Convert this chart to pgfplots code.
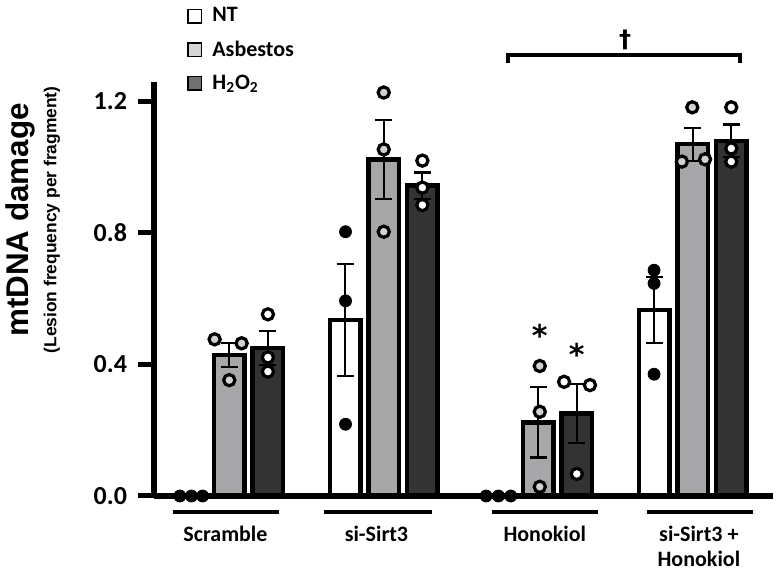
\documentclass[border=0pt]{standalone}
\usepackage{fontspec}
\setmainfont{Carlito}
\newfontfamily\arialfont{Liberation Sans}
\newfontfamily\djfont{DejaVu Sans}
\usepackage{pgfplots}
\pgfplotsset{compat=1.18}

\definecolor{asbbar}{HTML}{A7A7AA}
\definecolor{hbar}{HTML}{333333}
\definecolor{asbpt}{HTML}{D2D2D2}
\definecolor{asbleg}{HTML}{D6D6D6}
\definecolor{hleg}{HTML}{717171}

\begin{document}
\begin{tikzpicture}
\path[use as bounding box] (-77pt,-40pt) rectangle (314pt,248pt);
\begin{axis}[
    at={(0,0)}, anchor=south west,
    scale only axis, width=309.5pt, height=207pt,
    xmin=-1.95, xmax=14.08, ymin=0, ymax=1.258,
    axis x line=bottom, axis y line=left,
    axis line style={line width=3pt, -},
    xtick=\empty,
    ytick={0,0.4,0.8,1.2},
    tick align=outside, major tick length=8pt,
    ytick style={line width=2.5pt, black},
    /pgf/number format/assume math mode=true,
    y tick label style={font=\fontsize{13}{15}\selectfont\bfseries, xshift=-2pt,
        /pgf/number format/fixed, /pgf/number format/fixed zerofill,
        /pgf/number format/precision=1},
    clip=false, axis on top,
    legend cell align=left,
    legend style={at={(rel axis cs:0.053,1.19)}, anchor=north west,
        draw=none, fill=none, inner sep=0pt,
        font=\fontsize{11}{13}\selectfont\bfseries,
        row sep=3.8pt, column sep=3pt},
    error bars/error bar style={line width=1.1pt, black},
    error bars/error mark options={rotate=90, mark size=4.25pt, line width=1.1pt, black},
]
\addlegendimage{legend image code/.code={\draw[fill=white, line width=0.8pt] (0pt,-3.4pt) rectangle (6.8pt,3.4pt);}}
\addlegendentry{NT}
\addlegendimage{legend image code/.code={\draw[fill=asbleg, line width=0.8pt] (0pt,-3.4pt) rectangle (6.8pt,3.4pt);}}
\addlegendentry{Asbestos}
\addlegendimage{legend image code/.code={\draw[fill=hleg, line width=0.8pt] (0pt,-3.4pt) rectangle (6.8pt,3.4pt);}}
\addlegendentry{H\textsubscript{2}O\textsubscript{2}}

% bars (mean +- SEM)
\addplot[ybar, bar width=0.79, bar shift=0pt, fill=white, draw=black, line width=2.25pt, forget plot,
    error bars/.cd, y dir=both, y explicit]
    coordinates {(3,0.535) +- (0,0.171) (11,0.565) +- (0,0.100)};
\addplot[ybar, bar width=0.79, bar shift=0pt, fill=asbbar, draw=black, line width=2.25pt, forget plot,
    error bars/.cd, y dir=both, y explicit]
    coordinates {(0,0.428) +- (0,0.036) (4,1.023) +- (0,0.120) (8,0.224) +- (0,0.107) (12,1.069) +- (0,0.050)};
\addplot[ybar, bar width=0.79, bar shift=0pt, fill=hbar, draw=black, line width=2.25pt, forget plot,
    error bars/.cd, y dir=both, y explicit]
    coordinates {(1,0.450) +- (0,0.052) (5,0.943) +- (0,0.040) (9,0.251) +- (0,0.090) (13,1.079) +- (0,0.050)};

% individual replicates
\addplot[only marks, mark=*, mark size=3pt, mark options={fill=black, draw=black, line width=0.4pt}, forget plot]
    coordinates {(-1.28,0) (-0.98,0) (-0.69,0)
                 (3.01,0.803) (3.01,0.593) (3.01,0.218)
                 (6.65,0) (6.97,0) (7.29,0)
                 (11,0.686) (11,0.646) (11,0.370)};
\addplot[only marks, mark=*, mark size=2.8pt, mark options={fill=asbpt, draw=black, line width=1.6pt}, forget plot]
    coordinates {(-0.38,0.476) (0.32,0.464) (0,0.352)
                 (4,1.226) (4,1.053) (4,0.803)
                 (8.04,0.395) (8.04,0.256) (8.04,0.028)
                 (11.99,1.181) (11.72,1.016) (12.32,1.023)};
\addplot[only marks, mark=*, mark size=2.8pt, mark options={fill=white, draw=black, line width=1.6pt}, forget plot]
    coordinates {(1,0.552) (1,0.421) (1,0.378)
                 (5,1.019) (5,0.937) (5,0.884)
                 (8.67,0.347) (9.34,0.337) (9,0.067)
                 (13,1.181) (13,1.056) (13,1.016)};

% significance marks
\node[anchor=north, inner sep=0pt, font=\djfont\bfseries\fontsize{15}{15}\selectfont] at (axis cs:8.04,0.522) {*};
\node[anchor=north, inner sep=0pt, font=\djfont\bfseries\fontsize{15}{15}\selectfont] at (axis cs:9.0,0.465) {*};
\draw[line width=1.6pt] (axis cs:7.215,1.316) -- (axis cs:7.215,1.34) -- (axis cs:13.225,1.34) -- (axis cs:13.225,1.316);
\node[inner sep=0pt, font=\djfont\bfseries\fontsize{12}{12}\selectfont] at (axis cs:10.25,1.385) {†};

% y label
\node[rotate=90, font=\arialfont\bfseries\fontsize{15.7}{18}\selectfont] at (rel axis cs:-0.215,0.667) {mtDNA damage};
\node[rotate=90, font=\arialfont\bfseries\fontsize{8.7}{10}\selectfont] at (rel axis cs:-0.165,0.667) {(Lesion frequency per fragment)};

% group labels
\draw[line width=2pt] ([yshift=-8pt]axis cs:-1.464,0) -- ([yshift=-8pt]axis cs:1.282,0);
\draw[line width=2pt] ([yshift=-8pt]axis cs:2.448,0) -- ([yshift=-8pt]axis cs:5.246,0);
\draw[line width=2pt] ([yshift=-8pt]axis cs:6.80,0) -- ([yshift=-8pt]axis cs:9.547,0);
\draw[line width=2pt] ([yshift=-8pt]axis cs:10.816,0) -- ([yshift=-8pt]axis cs:13.562,0);
\node[anchor=base, font=\fontsize{11}{13}\selectfont\bfseries] at ([yshift=-22.9pt]axis cs:-0.1,0) {Scramble};
\node[anchor=base, font=\fontsize{11}{13}\selectfont\bfseries] at ([yshift=-22.9pt]axis cs:3.81,0) {si-Sirt3};
\node[anchor=base, font=\fontsize{11}{13}\selectfont\bfseries] at ([yshift=-22.9pt]axis cs:8.17,0) {Honokiol};
\node[anchor=base, font=\fontsize{11}{13}\selectfont\bfseries] at ([yshift=-22.9pt]axis cs:12.16,0) {si-Sirt3 +};
\node[anchor=base, font=\fontsize{11}{13}\selectfont\bfseries] at ([yshift=-35.4pt]axis cs:12.16,0) {Honokiol};
\end{axis}
\end{tikzpicture}
\end{document}
